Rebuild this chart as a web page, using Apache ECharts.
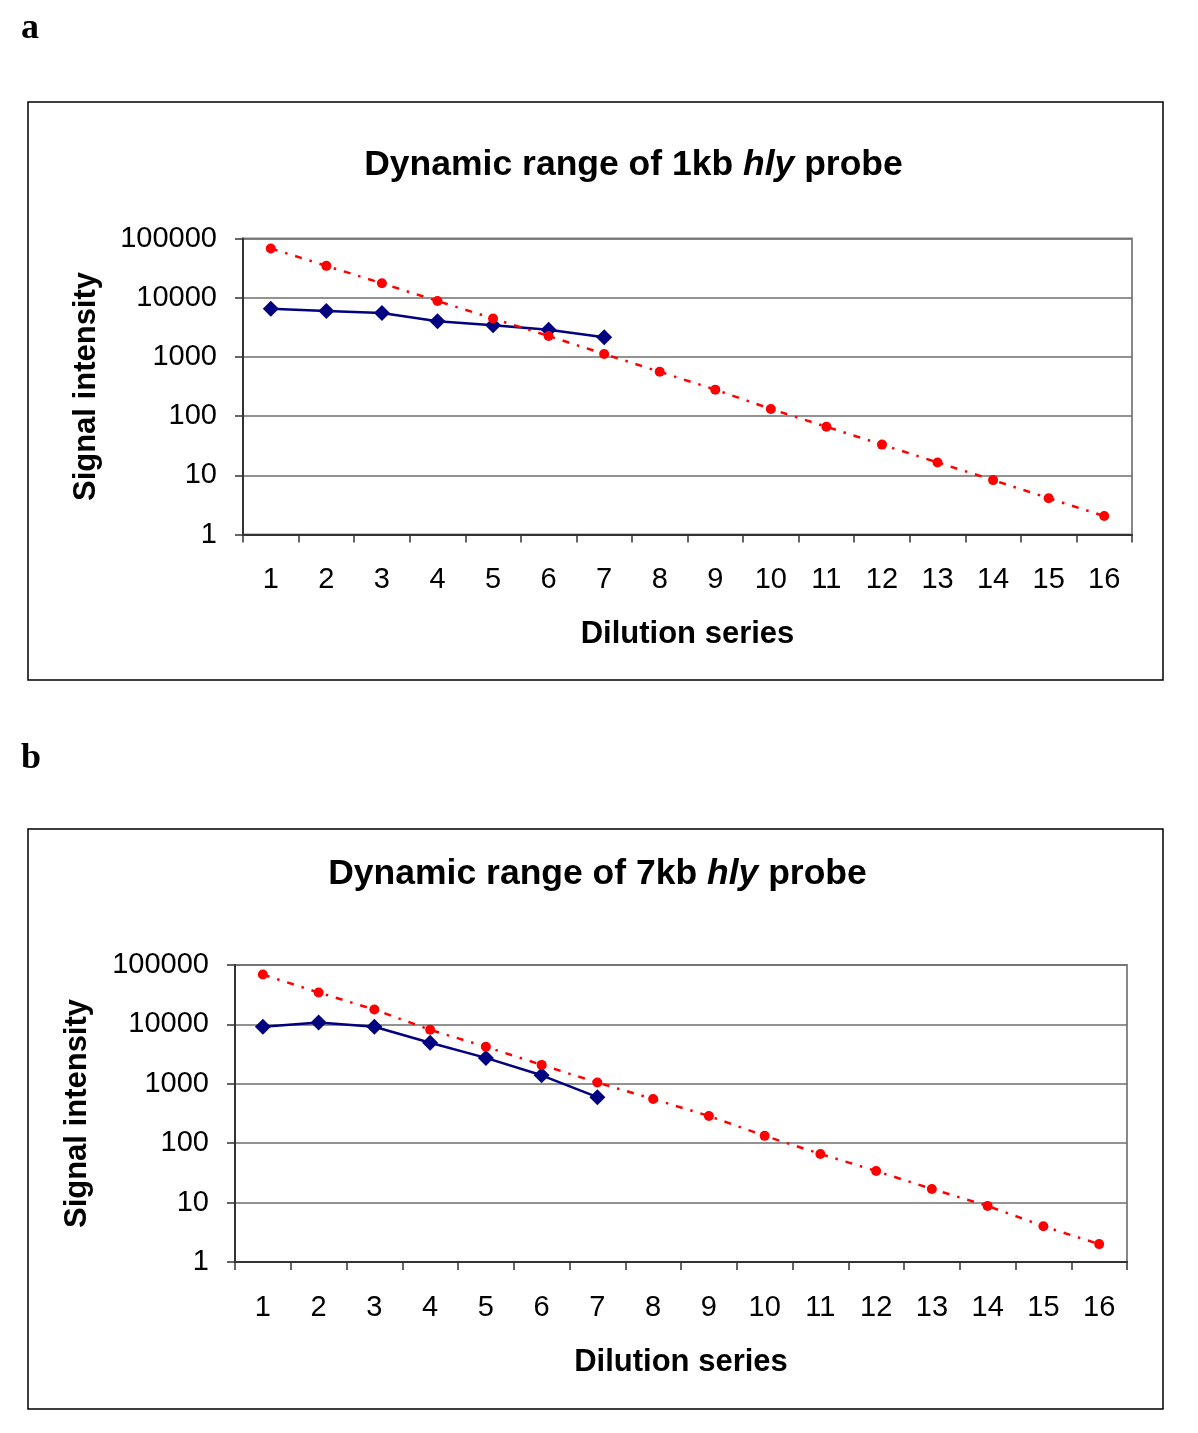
<!DOCTYPE html>
<html>
<head>
<meta charset="utf-8">
<script src="https://cdn.jsdelivr.net/npm/echarts@6/dist/echarts.min.js"></script>
<style>
html,body{margin:0;padding:0;background:#fff;}
#c{width:1198px;height:1433px;}
</style>
</head>
<body>
<div id="c"></div>
<script>
const categories = ['1','2','3','4','5','6','7','8','9','10','11','12','13','14','15','16'];
const yTicks = [1, 10, 100, 1000, 10000, 100000];

// Panel a: 1kb hly probe
const probeA = [6530, 5975, 5535, 4000, 3420, 2865, 2150];
const dilutionA = [68000, 34500, 17500, 8800, 4450, 2250, 1120, 560, 280, 132, 66, 33, 16.5, 8.3, 4.1, 2.05];

// Panel b: 7kb hly probe
const probeB = [9150, 10800, 9150, 4900, 2730, 1390, 596];
const dilutionB = [69000, 34400, 17800, 8100, 4200, 2080, 1050, 555, 287, 133, 66, 34, 17, 8.8, 4, 2];

const titleA = ['Dynamic range of 1kb ', 'hly', ' probe'];
const titleB = ['Dynamic range of 7kb ', 'hly', ' probe'];

const SANS = '"Liberation Sans", Arial, Helvetica, sans-serif';
const chart = echarts.init(document.getElementById('c'), null, {renderer:'canvas', width:1198, height:1433});

function xAxis(gi, margin, gap) {
  return {
    type:'category', gridIndex:gi, data:categories, boundaryGap:true,
    axisLine:{show:true, lineStyle:{color:'#333', width:2}},
    axisTick:{show:true, interval:0, length:8, inside:false, lineStyle:{color:'#333', width:1.5}},
    axisLabel:{interval:0, margin:margin, fontFamily:SANS, fontSize:29, color:'#000'},
    splitLine:{show:false},
    name:'Dilution series', nameLocation:'middle', nameGap:gap,
    nameTextStyle:{fontFamily:SANS, fontSize:31, fontWeight:'bold', color:'#000'}
  };
}
function yAxis(gi, margin, gap) {
  return {
    type:'log', gridIndex:gi, logBase:10, min:yTicks[0], max:yTicks[yTicks.length-1], splitNumber:5,
    axisLine:{show:true, lineStyle:{color:'#333', width:2}},
    axisTick:{show:true, length:8, lineStyle:{color:'#333', width:1.5}},
    axisLabel:{margin:margin, fontFamily:SANS, fontSize:29, color:'#000', formatter:function(v){return String(Math.round(v));}},
    splitLine:{show:true, lineStyle:{color:'#6e6e6e', width:1.5}},
    name:'Signal intensity', nameLocation:'middle', nameGap:gap, nameRotate:90,
    nameTextStyle:{fontFamily:SANS, fontSize:31, fontWeight:'bold', color:'#000'}
  };
}
function blue(gi, data) {
  return {type:'line', xAxisIndex:gi, yAxisIndex:gi, data:data, symbol:'diamond', symbolSize:16,
    itemStyle:{color:'#000080'}, lineStyle:{color:'#000080', width:2.5}, z:2, animation:false};
}
function red(gi, data) {
  return {type:'line', xAxisIndex:gi, yAxisIndex:gi, data:data, symbol:'circle', symbolSize:10,
    showAllSymbol:true,
    itemStyle:{color:'#ff0000'}, lineStyle:{color:'#ff0000', width:2.5, type:[7,8,2.5,8]}, z:3, animation:false};
}
function titleText(x, y, parts) {
  return {type:'text', x:x, y:y, z:10, style:{
    text:'{n|' + parts[0] + '}{i|' + parts[1] + '}{n|' + parts[2] + '}',
    align:'center', verticalAlign:'middle',
    rich:{
      n:{fontFamily:SANS, fontSize:35.5, fontWeight:'bold', fill:'#000', color:'#000'},
      i:{fontFamily:SANS, fontSize:35.5, fontWeight:'bold', fontStyle:'italic', fill:'#000', color:'#000'}
    }
  }};
}

chart.setOption({
  backgroundColor:'#fff',
  animation:false,
  grid:[
    {left:243, top:238.5, width:889, height:296, show:true, borderColor:'#888', borderWidth:2, containLabel:false},
    {left:235, top:965, width:892, height:297, show:true, borderColor:'#888', borderWidth:2, containLabel:false}
  ],
  xAxis:[xAxis(0, 31, 84), xAxis(1, 31, 85)],
  yAxis:[yAxis(0, 26, 141), yAxis(1, 26, 142)],
  series:[blue(0, probeA), red(0, dilutionA), blue(1, probeB), red(1, dilutionB)],
  graphic:[
    {type:'rect', shape:{x:28, y:102, width:1135, height:578}, style:{fill:null, stroke:'#000', lineWidth:1.5}, z:0},
    {type:'rect', shape:{x:28, y:829, width:1135, height:580}, style:{fill:null, stroke:'#000', lineWidth:1.5}, z:0},
    {type:'text', x:30, y:29, style:{text:'a', font:'bold 36px "Liberation Serif", "Times New Roman", serif', fill:'#000', align:'center', verticalAlign:'middle'}},
    {type:'text', x:31, y:759, style:{text:'b', font:'bold 36px "Liberation Serif", "Times New Roman", serif', fill:'#000', align:'center', verticalAlign:'middle'}},
    titleText(633.5, 165, titleA),
    titleText(597.5, 874, titleB)
  ]
});
</script>
</body>
</html>
